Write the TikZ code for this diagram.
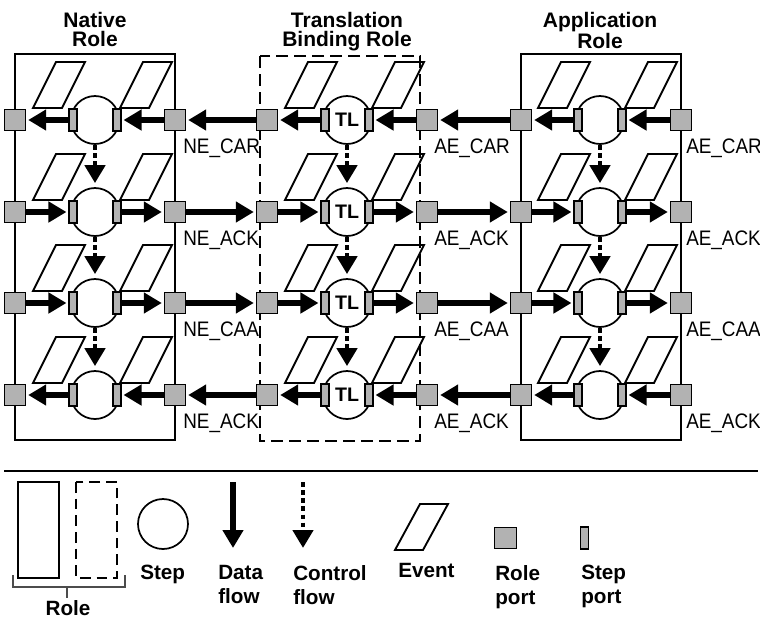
\documentclass[tikz,border=0pt]{standalone}
\usepackage{fontspec}
\setmainfont{Liberation Sans}
\newfontfamily\narrowsans{Liberation Sans}[FakeStretch=0.9]
\usepackage{xcolor}
\usepackage{tikz}
\usetikzlibrary{arrows.meta}
\definecolor{portgray}{RGB}{178,178,178}

\begin{document}
\begin{tikzpicture}[x=0.75pt,y=0.75pt,yscale=-1,xscale=1,
  roleport/.style={draw, fill=portgray, line width=0.8pt, minimum size=16pt, inner sep=0pt},
  stepport/.style={draw, fill=portgray, line width=0.8pt, minimum width=6pt, minimum height=16.5pt, inner sep=0pt},
  stepnode/.style={draw, circle, line width=1.3pt, minimum size=36pt, inner sep=0pt, font=\bfseries\fontsize{14.7}{16}\selectfont},
  rolebox/.style={line width=1.5pt},
  eventline/.style={line width=1.4pt},
  dataflow/.style={line width=4pt, -{Triangle[length=13.5pt,width=15pt]}, shorten >=1.5pt},
  ctrlflow/.style={line width=3.6pt, dash pattern=on 3.5pt off 2.6pt, -{Triangle[length=13.5pt,width=15pt]}, shorten >=3pt},
  portlabel/.style={anchor=base west, inner sep=0pt, font=\narrowsans\fontsize{15.75}{18}\selectfont},
  roletitle/.style={anchor=north, align=center, inner sep=0pt, font=\bfseries\fontsize{15.75}{14.5}\selectfont},
  legendtext/.style={anchor=north west, align=left, inner sep=0pt, font=\bfseries\fontsize{15.5}{18}\selectfont}]
\useasboundingbox (0,0) rectangle (760,618);

% Role boxes
\draw[rolebox] (15,54) rectangle (175,440);
\draw[rolebox, dash pattern=on 9pt off 4.5pt] (260,56) rectangle (420,441);
\draw[rolebox] (521,54) rectangle (681,440);

% Role titles
\node[roletitle] (nat-title) at (95,12) {Native\\Role};
\node[roletitle] (tl-title) at (347,12) {Translation\\Binding Role};
\node[roletitle] (app-title) at (600,12) {Application\\Role};

% Steps, events and ports
\foreach \role/\cx/\pl/\pr/\txt in {nat/95/15/175/{}, tl/347/267/427/TL, app/600/521/681/{}}{
  \foreach \r/\y in {1/120, 2/212, 3/303, 4/395}{
    \node[stepnode] (\role-s\r) at (\cx,\y) {\txt};
    \draw[eventline] ([shift={(-62,-12)}]\role-s\r.center) -- ++(29,0) -- ++(23,-46) -- ++(-29,0) -- cycle;
    \draw[eventline] ([shift={(25,-12)}]\role-s\r.center) -- ++(29,0) -- ++(23,-46) -- ++(-29,0) -- cycle;
    \node[stepport] (\role-sl\r) at (\cx-22,\y) {};
    \node[stepport] (\role-sr\r) at (\cx+22,\y) {};
    \node[roleport] (\role-pl\r) at (\pl,\y) {};
    \node[roleport] (\role-pr\r) at (\pr,\y) {};
  }
  % Control flow
  \foreach \r/\n in {1/2, 2/3, 3/4}
    \draw[ctrlflow] (\role-s\r) -- (\role-s\n);
}

% Data flow, right to left
\foreach \r in {1,4}{
  \foreach \role in {nat,tl,app}{
    \draw[dataflow] (\role-sl\r) -- (\role-pl\r);
    \draw[dataflow] (\role-pr\r) -- (\role-sr\r);
  }
  \draw[dataflow] (tl-pl\r) -- (nat-pr\r);
  \draw[dataflow] (app-pl\r) -- (tl-pr\r);
}
% Data flow, left to right
\foreach \r in {2,3}{
  \foreach \role in {nat,tl,app}{
    \draw[dataflow] (\role-pl\r) -- (\role-sl\r);
    \draw[dataflow] (\role-sr\r) -- (\role-pr\r);
  }
  \draw[dataflow] (nat-pr\r) -- (tl-pl\r);
  \draw[dataflow] (tl-pr\r) -- (app-pl\r);
}

% Port labels
\foreach \r/\y/\lbl in {1/120/CAR, 2/212/ACK, 3/303/CAA, 4/395/ACK}{
  \node[portlabel] (nat-lb\r) at (183,\y+33) {NE\_\lbl};
  \node[portlabel] (tl-lb\r) at (434,\y+33) {AE\_\lbl};
  \node[portlabel] (app-lb\r) at (686,\y+33) {AE\_\lbl};
}

% Legend
\draw[line width=1.2pt] (4,471) -- (758,471);
\draw[rolebox] (18,482) rectangle (59,578);
\draw[rolebox, dash pattern=on 8pt off 4.5pt] (76,482) rectangle (117,578);
\draw[line width=0.8pt, black!70] (13,575) -- (13,587) -- (125,587) -- (125,575);
\draw[line width=0.8pt, black!70] (67,587) -- (67,598);
\node[legendtext, anchor=north] (lg-role) at (68,600) {Role};

\node[stepnode, minimum size=37.5pt] (lg-step) at (163,524) {};
\node[legendtext] (lg-steptext) at (140,565) {Step};

\coordinate (lg-data-top) at (233,482);
\coordinate (lg-data-tip) at (233,548);
\draw[dataflow, shorten >=0pt] (lg-data-top) -- (lg-data-tip);
\node[legendtext] (lg-datatext) at (218,565) {Data\\flow};

\coordinate (lg-ctrl-top) at (303,482);
\coordinate (lg-ctrl-tip) at (303,548);
\draw[ctrlflow, shorten >=0pt] (lg-ctrl-top) -- (lg-ctrl-tip);
\node[legendtext] (lg-ctrltext) at (293,565) {Control\\flow};

\draw[eventline] (395,550) -- ++(28,0) -- ++(25,-46) -- ++(-28,0) -- cycle;
\node[legendtext] (lg-eventtext) at (398,563) {Event};

\node[roleport] (lg-roleport) at (505.5,538) {};
\node[legendtext] (lg-roleporttext) at (495,565) {Role\\port};

\node[stepport] (lg-stepport) at (584.5,538) {};
\node[legendtext] (lg-stepporttext) at (581,565) {Step\\port};
\end{tikzpicture}
\end{document}
